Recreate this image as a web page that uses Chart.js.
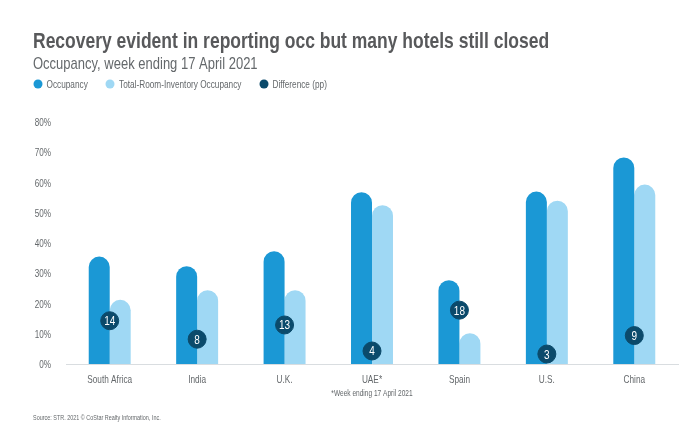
<!DOCTYPE html>
<html>
<head>
<meta charset="utf-8">
<style>
  html, body { margin: 0; padding: 0; background: #fff; }
  canvas { display: block; }
</style>
<script src="https://cdn.jsdelivr.net/npm/chart.js@4"></script>
</head>
<body>
<canvas id="chart1" width="700" height="428"></canvas>
<script>
const categories = ['South Africa', 'India', 'U.K.', 'UAE*', 'Spain', 'U.S.', 'China'];
const occupancy = [35.5, 32.3, 37.3, 56.8, 27.7, 57, 68.3];
const troccupancy = [21.2, 24.4, 24.4, 52.5, 10.2, 54, 59.3];
const difference = [14.3, 8.2, 12.9, 4.3, 17.8, 3.3, 9.4];
const differenceLabels = ['14', '8', '13', '4', '18', '3', '9'];

const titleText = 'Recovery evident in reporting occ but many hotels still closed';
const subtitleText = 'Occupancy, week ending 17 April 2021';
const noteText = '*Week ending 17 April 2021';
const sourceText = 'Source: STR. 2021 © CoStar Realty Information, Inc.';

const textColor = '#64686b';

// the reference uses a condensed face, so every label gets squeezed sideways
function drawText(ctx, str, x, y, font, color, align, squeeze) {
    ctx.save();
    ctx.translate(x, y);
    ctx.scale(squeeze, 1);
    ctx.font = font;
    ctx.fillStyle = color;
    ctx.textAlign = align;
    ctx.textBaseline = 'alphabetic';
    ctx.fillText(str, 0, 0);
    ctx.restore();
}

const textLayer = {
    id: 'textLayer',
    afterDraw(chart) {
        const ctx = chart.ctx;
        const sans = '"Liberation Sans", sans-serif';

        drawText(ctx, titleText, 33, 48, 'bold 22px ' + sans, '#58595b', 'left', 0.795);
        drawText(ctx, subtitleText, 33, 69, '17px ' + sans, textColor, 'left', 0.765);

        // legend
        const legendDots = [38, 110, 264];
        const legendText = [46.5, 119, 272.5];
        chart.data.datasets.forEach((ds, i) => {
            ctx.fillStyle = ds.backgroundColor;
            ctx.beginPath();
            ctx.arc(legendDots[i], 84, 4.5, 0, Math.PI * 2);
            ctx.fill();
            drawText(ctx, ds.label, legendText[i], 88, '11px ' + sans, textColor, 'left', 0.75);
        });

        // y axis ticks
        const y = chart.scales.y;
        y.ticks.forEach((t, i) => {
            drawText(ctx, t.value + '%', 51, y.getPixelForTick(i) + 4, '11px ' + sans, textColor, 'right', 0.74);
        });

        // x axis ticks
        const x = chart.scales.x;
        x.ticks.forEach((t, i) => {
            drawText(ctx, categories[t.value], x.getPixelForTick(i), 383, '11px ' + sans, textColor, 'center', 0.75);
        });

        // numbers inside the dots
        chart.getDatasetMeta(2).data.forEach((pt, i) => {
            drawText(ctx, differenceLabels[i], pt.x, pt.y + 4.5, '12.5px ' + sans, '#fff', 'center', 0.8);
        });

        drawText(ctx, noteText, x.getPixelForTick(3), 396, '9px ' + sans, textColor, 'center', 0.73);
        drawText(ctx, sourceText, 33, 420, '8px ' + sans, textColor, 'left', 0.68);
    }
};

const ctx1 = document.getElementById('chart1').getContext('2d');
const chart1 = new Chart(ctx1, {
    data: {
        labels: categories,
        datasets: [{
            type: 'bar',
            label: 'Occupancy',
            data: occupancy,
            backgroundColor: '#1b98d5',
            borderRadius: { topLeft: 11, topRight: 11 },
            order: 2
        }, {
            type: 'bar',
            label: 'Total-Room-Inventory Occupancy',
            data: troccupancy,
            backgroundColor: '#9fd8f4',
            borderRadius: { topLeft: 11, topRight: 11 },
            order: 2
        }, {
            type: 'line',
            label: 'Difference (pp)',
            data: difference,
            showLine: false,
            backgroundColor: '#0b4a6b',
            borderColor: '#0b4a6b',
            pointRadius: 9,
            pointHoverRadius: 9,
            order: 1
        }]
    },
    options: {
        responsive: false,
        animation: false,
        layout: { padding: { left: 66, right: 22, top: 122, bottom: 64 } },
        datasets: { bar: { barPercentage: 1, categoryPercentage: 0.48 } },
        plugins: {
            legend: { display: false },
            tooltip: { enabled: false }
        },
        scales: {
            x: {
                grid: { display: false, drawTicks: false, tickLength: 0 },
                border: { color: '#d9dde0' },
                ticks: { display: false }
            },
            y: {
                min: 0,
                max: 80,
                grid: { display: false, drawTicks: false, tickLength: 0 },
                border: { display: false },
                ticks: { display: false, stepSize: 10 }
            }
        }
    },
    plugins: [textLayer]
});
</script>
</body>
</html>
